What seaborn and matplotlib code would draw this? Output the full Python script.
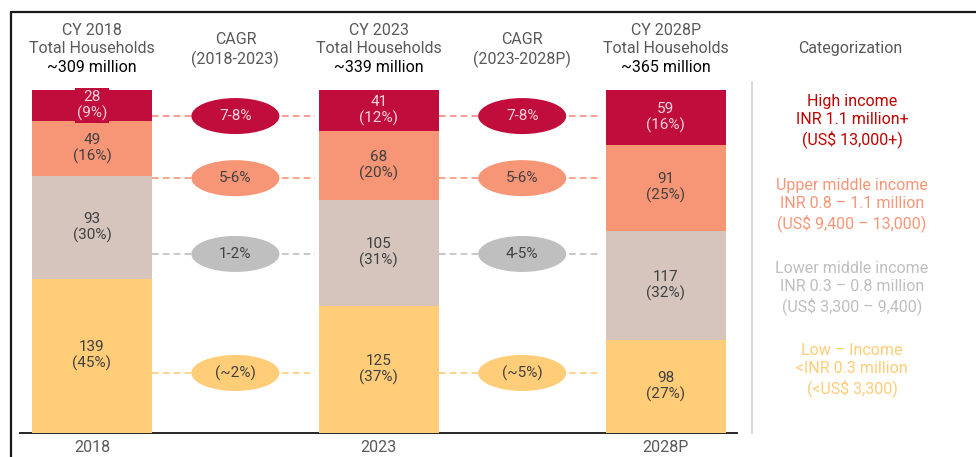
import matplotlib.pyplot as plt
import seaborn as sns
import pandas as pd
import numpy as np
from matplotlib.patches import Ellipse
from matplotlib.lines import Line2D

# data (households in million, share of total in %)
years = ['2018', '2023', '2028P']
totals = ['~309 million', '~339 million', '~365 million']
segments = ['High income', 'Upper middle income', 'Lower middle income', 'Low income']
high = [28, 41, 59]
upper = [49, 68, 91]
lower = [93, 105, 117]
low = [139, 125, 98]
high_pct = [9, 12, 16]
upper_pct = [16, 20, 25]
lower_pct = [30, 31, 32]
low_pct = [45, 37, 27]
cagr_2018_2023 = ['7-8%', '5-6%', '1-2%', '(~2%)']
cagr_2023_2028 = ['7-8%', '5-6%', '4-5%', '(~5%)']
cagr_periods = ['(2018-2023)', '(2023-2028P)']
categories = [
    'High income\nINR 1.1 million+\n(US$ 13,000+)',
    'Upper middle income\nINR 0.8 \u2013 1.1 million\n(US$ 9,400 \u2013 13,000)',
    'Lower middle income\nINR 0.3 \u2013 0.8 million\n(US$ 3,300 \u2013 9,400)',
    'Low \u2013 Income\n<INR 0.3 million\n(<US$ 3,300)',
]

sns.set_style('white')
plt.rcParams['font.family'] = ['Roboto', 'DejaVu Sans']

colors = ['#C00D3C', '#F79676', '#D5C5BD', '#FFCC78']
ell_colors = ['#C00D3C', '#F79676', '#BFBFBF', '#FFCC78']
dash_colors = ['#F28B82', '#F79676', '#BFBFBF', '#FFCC78']
cat_colors = ['#C00000', '#F79676', '#BFBFBF', '#FFCC78']
txt_dark = '#404040'
txt_light = '#F6D6DE'
grey = '#595959'

df = pd.DataFrame({'year': years, 'high': high_pct, 'upper': upper_pct,
                   'lower': lower_pct, 'low': low_pct})
# cumulative tops, drawn tallest first so the shorter bars sit on top
cum = df[['low', 'lower', 'upper', 'high']].cumsum(axis=1)
df['top_low'] = cum['low']
df['top_lower'] = cum['lower']
df['top_upper'] = cum['upper']
df['top_high'] = cum['high']

fig = plt.figure(figsize=(9.76, 4.57), dpi=100)
W, H = 976, 457
ax = fig.add_axes([20 / W, 24 / H, 717 / W, 343 / H])

bw = 0.418
for col, c in zip(['top_high', 'top_upper', 'top_lower', 'top_low'], colors):
    sns.barplot(data=df, x='year', y=col, color=c, saturation=1, width=bw,
                linewidth=0, ax=ax, zorder=3)

ax.set_xlim(-0.251, 2.249)
ax.set_ylim(0, 100)
ax.set_xlabel('')
ax.set_ylabel('')
ax.set_yticks([])
ax.set_xticks([0, 1, 2], years)
ax.tick_params(axis='x', length=0, pad=5, labelsize=11.5, labelcolor=grey)
for s in ['top', 'right', 'left']:
    ax.spines[s].set_visible(False)
ax.spines['bottom'].set_color('#262626')
ax.spines['bottom'].set_linewidth(1.4)

# bar labels
values = [high, upper, lower, low]
shares = [high_pct, upper_pct, lower_pct, low_pct]
tops = [df['top_high'], df['top_upper'], df['top_lower'], df['top_low']]
for k in range(4):
    for i in range(3):
        mid = tops[k][i] - shares[k][i] / 2
        kw = {}
        if k == 0 and i == 0:
            kw['bbox'] = dict(boxstyle='square,pad=0.12', fc=colors[0], ec='none')
        ax.text(i, mid, f'{values[k][i]}\n({shares[k][i]}%)', ha='center', va='center',
                fontsize=11, color=txt_light if k == 0 else txt_dark,
                linespacing=1.15, zorder=5, **kw)

# CAGR ellipses and dashed connectors
ell_y = [92.4, 74.3, 52.2, 17.5]
for j, cagr in enumerate([cagr_2018_2023, cagr_2023_2028]):
    xc = j + 0.5
    for k in range(4):
        ax.plot([j + bw / 2, j + 1 - bw / 2 - 0.015], [ell_y[k]] * 2, color=dash_colors[k],
                lw=1.2, ls=(0, (4, 2.5)), zorder=1)
        ax.add_patch(Ellipse((xc, ell_y[k]), 0.307, 10.5, fc=ell_colors[k], ec='none', zorder=2))
        ax.text(xc, ell_y[k], cagr[k], ha='center', va='center', fontsize=11,
                color=txt_light if k == 0 else txt_dark, zorder=4)

# headers above bars
tr = ax.get_xaxis_transform()


def ay(ypix):
    return (433 - ypix) / 343


for i in range(3):
    ax.text(i, ay(30), f'CY {years[i]}', transform=tr, ha='center', va='center',
            fontsize=11.5, color=grey, clip_on=False)
    ax.text(i, ay(48), 'Total Households', transform=tr, ha='center', va='center',
            fontsize=11.5, color=grey, clip_on=False)
    ax.text(i, ay(68), totals[i], transform=tr, ha='center', va='center',
            fontsize=11.5, color='black', clip_on=False)
for j in range(2):
    ax.text(j + 0.5, ay(40), 'CAGR', transform=tr, ha='center', va='center',
            fontsize=11.5, color=grey, clip_on=False)
    ax.text(j + 0.5, ay(59), cagr_periods[j], transform=tr, ha='center', va='center',
            fontsize=11.5, color=grey, clip_on=False)

# right panel
fig.text(850 / W, 1 - 48 / H, 'Categorization', ha='center', va='center',
         fontsize=11.5, color=grey)
cat_y = [121, 205, 288, 370]
for k in range(4):
    fig.text(852 / W, 1 - cat_y[k] / H, categories[k], ha='center', va='center',
             fontsize=11.5, color=cat_colors[k], linespacing=1.2)
fig.add_artist(Line2D([752 / W] * 2, [1 - 82 / H, 1 - 433 / H], color='#D9D9D9', lw=1.5))

# outer frame (top and left edge)
fig.add_artist(Line2D([11 / W, 1], [1 - 12 / H] * 2, color='#1A1A1A', lw=1.6))
fig.add_artist(Line2D([11 / W] * 2, [1 - 12 / H, 0], color='#1A1A1A', lw=1.6))

fig.savefig('out.png', dpi=100)
